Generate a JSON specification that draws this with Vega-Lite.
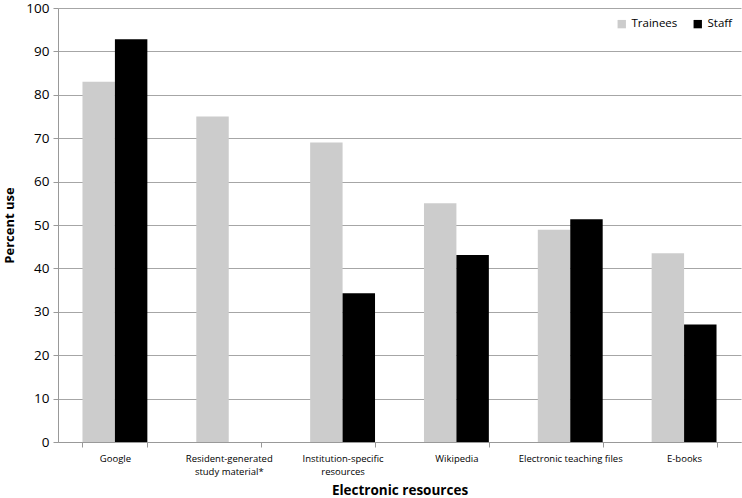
{
  "$schema": "https://vega.github.io/schema/vega-lite/v6.json",
  "width": 683,
  "height": 434,
  "autosize": {"type": "none"},
  "padding": {"left": 58, "top": 8, "right": 1, "bottom": 56},
  "background": "white",
  "config": {
    "view": {"stroke": null},
    "font": "Open Sans"
  },
  "data": {
    "values": [
      {"resource": "Google", "group": "Trainees", "pct": 83},
      {"resource": "Google", "group": "Staff", "pct": 92.8},
      {"resource": "Resident-generated study material*", "group": "Trainees", "pct": 75},
      {"resource": "Resident-generated study material*", "group": "Staff", "pct": 0},
      {"resource": "Institution-specific resources", "group": "Trainees", "pct": 69},
      {"resource": "Institution-specific resources", "group": "Staff", "pct": 34.3},
      {"resource": "Wikipedia", "group": "Trainees", "pct": 55},
      {"resource": "Wikipedia", "group": "Staff", "pct": 43.1},
      {"resource": "Electronic teaching files", "group": "Trainees", "pct": 48.9},
      {"resource": "Electronic teaching files", "group": "Staff", "pct": 51.3},
      {"resource": "E-books", "group": "Trainees", "pct": 43.5},
      {"resource": "E-books", "group": "Staff", "pct": 27.1}
    ]
  },
  "mark": {"type": "bar"},
  "encoding": {
    "x": {
      "field": "resource",
      "type": "nominal",
      "sort": null,
      "scale": {"paddingInner": 0.43, "paddingOuter": 0.215},
      "axis": {
        "title": "Electronic resources",
        "titleFont": "Open Sans",
        "titleFontSize": 13.5,
        "titleFontWeight": "bold",
        "titleColor": "black",
        "titlePadding": 8,
        "labelAngle": 0,
        "labelFontSize": 9.5,
        "labelLineHeight": 13,
        "labelColor": "black",
        "labelPadding": 6,
        "labelLimit": 200,
        "labelExpr": "datum.value == 'Resident-generated study material*' ? ['Resident-generated', 'study material*'] : datum.value == 'Institution-specific resources' ? ['Institution-specific', 'resources'] : datum.value",
        "domainColor": "#999999",
        "tickColor": "#999999",
        "tickBand": "extent",
        "tickSize": 5
      }
    },
    "xOffset": {"field": "group", "type": "nominal", "sort": ["Trainees", "Staff"], "scale": {"paddingInner": 0, "paddingOuter": 0}},
    "y": {
      "field": "pct",
      "type": "quantitative",
      "scale": {"domain": [0, 100]},
      "axis": {
        "title": "Percent use",
        "titleFont": "Open Sans",
        "titleFontSize": 13,
        "titleFontWeight": "bold",
        "titleColor": "black",
        "titlePadding": 9,
        "values": [0, 10, 20, 30, 40, 50, 60, 70, 80, 90, 100],
        "labelFontSize": 13.5,
        "labelColor": "black",
        "labelPadding": 4,
        "gridColor": "#a6a6a6",
        "domainColor": "#999999",
        "tickColor": "#999999",
        "tickSize": 5
      }
    },
    "color": {
      "field": "group",
      "type": "nominal",
      "sort": ["Trainees", "Staff"],
      "scale": {"domain": ["Trainees", "Staff"], "range": ["#cccccc", "#000000"]},
      "legend": {
        "title": null,
        "orient": "none",
        "legendX": 558,
        "legendY": 10,
        "direction": "horizontal",
        "symbolType": "square",
        "symbolSize": 70,
        "labelFontSize": 11.5,
        "labelColor": "black",
        "columnPadding": 14,
        "symbolStrokeWidth": 0
      }
    }
  }
}
